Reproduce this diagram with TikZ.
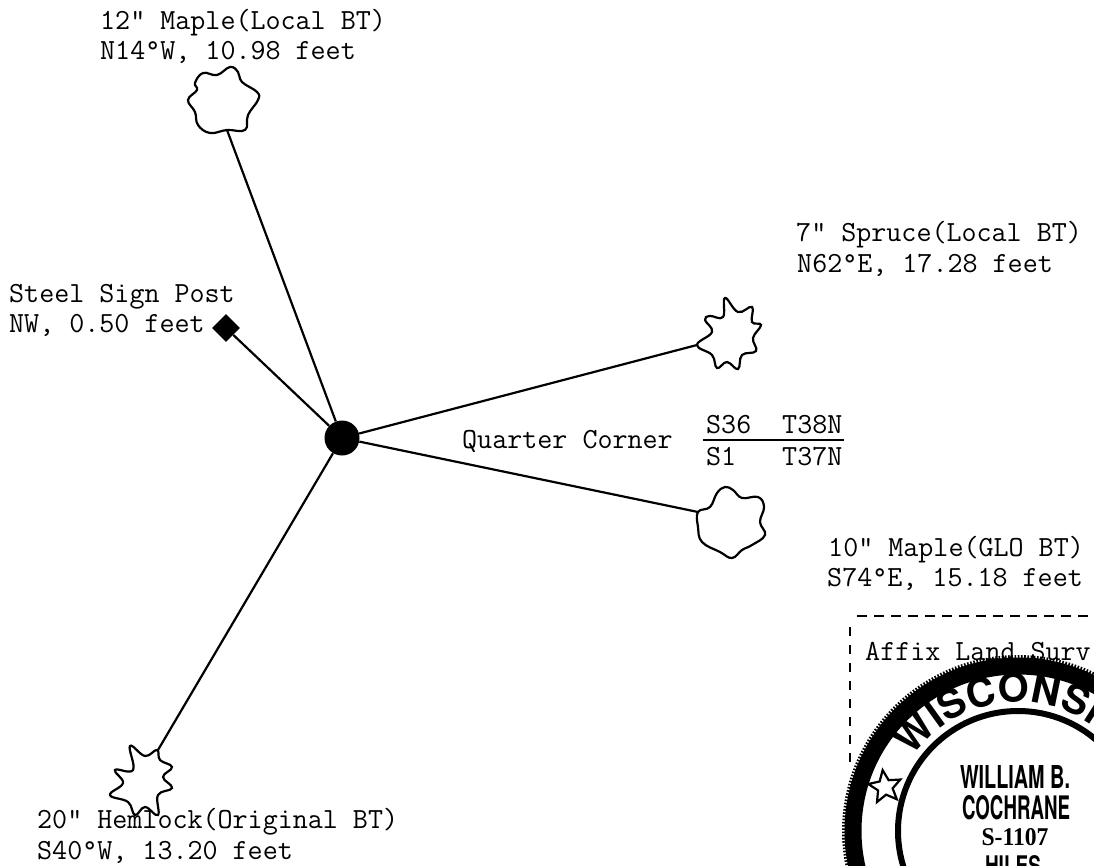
\documentclass[tikz,border=0pt]{standalone}
\usepackage{fontspec}
\usepackage{graphicx}
\usetikzlibrary{shapes.geometric,decorations.text}
\setmonofont{Latin Modern Mono}
\newfontfamily\stampsans[Ligatures=TeX]{TeX Gyre Heros}
\newfontfamily\stampserif{Liberation Serif}
\tikzset{
  x=1pt,y=-1pt,
  lbl/.style={anchor=base west,inner sep=0pt,font=\fontsize{29.2}{30}\selectfont\ttfamily},
  tree/.style={draw=black,line width=2.2pt,fill=white,smooth cycle,tension=0.7},
  tie/.style={draw=black,line width=2.2pt},
  stampname/.style={inner sep=0pt,anchor=center},
}
\begin{document}
\begin{tikzpicture}
\useasboundingbox (0,0) rectangle (1094,866);
% connectors
\node[circle,fill=black,inner sep=0pt,minimum size=35pt] (corner) at (342,438) {};
\node[diamond,fill=black,inner sep=0pt,minimum size=28pt] (post) at (226,328) {};
\coordinate (mapleA) at (227,130);
\coordinate (spruce) at (697,345);
\coordinate (mapleB) at (698,512);
\coordinate (hemlock) at (158,750);
\draw[tie] (corner) -- (mapleA);
\draw[tie] (corner) -- (post);
\draw[tie] (corner) -- (spruce);
\draw[tie] (corner) -- (mapleB);
\draw[tie] (corner) -- (hemlock);
% trees
\draw[tree] plot coordinates {(195,83)(203,73)(217,75)(230,67)(238,72)(242,82)(257,92)(258,100)(248,115)(245,130)(227,130)(210,133)(198,125)(195,112)(188,100)(197,90)};
\draw[tree] plot coordinates {(697,345)(712,332)(705,320)(710,316)(723,317)(725,298)(738,312)(752,307)(752,322)(761,325)(753,338)(756,351)(742,355)(738,369)(727,362)(717,368)(712,355)};
\draw[tree] plot coordinates {(698,512)(710,507)(717,493)(725,487)(733,490)(742,498)(758,497)(764,507)(760,522)(765,535)(752,545)(742,550)(732,558)(720,552)(702,542)(698,527)};
\draw[tree] plot coordinates {(157,750)(145,756)(130,746)(133,770)(115,770)(123,783)(110,795)(128,802)(135,815)(145,807)(158,815)(158,795)(172,788)(163,777)(172,767)(160,760)};
% labels
\node[lbl] (t1) at (100,30) {12" Maple(Local BT)};
\node[lbl] (t2) at (100,60) {N14°W, 10.98 feet};
\node[lbl] (t3) at (796,242) {7" Spruce(Local BT)};
\node[lbl] (t4) at (797,273) {N62°E, 17.28 feet};
\node[lbl] (t5) at (9,302) {Steel Sign Post};
\node[lbl] (t6) at (9,332) {NW, 0.50 feet};
\node[lbl] (t7) at (462,448) {Quarter Corner};
\node[lbl] (t8) at (706,433) {S36};
\node[lbl] (t9) at (782,433) {T38N};
\node[lbl] (t10) at (706,465) {S1};
\node[lbl] (t11) at (782,465) {T37N};
\coordinate (ruleL) at (703,440);
\coordinate (ruleR) at (844,440);
\draw[black,line width=1.8pt] (ruleL) -- (ruleR);
\node[lbl] (t12) at (828,556) {10" Maple(GLO BT)};
\node[lbl] (t13) at (827,586) {S74°E, 15.18 feet};
\node[lbl] (t14) at (37,828) {20" Hemlock(Original BT)};
\node[lbl] (t15) at (37,859) {S40°W, 13.20 feet};
% stamp
\begin{scope}
\clip (0,0) rectangle (1094,866);
\coordinate (boxTL) at (857,616);
\coordinate (boxTR) at (1094,616);
\coordinate (boxL1) at (850,627);
\coordinate (boxL2) at (850,765);
\draw[black,line width=1.8pt,dash pattern=on 10pt off 7pt] (boxTL) -- (boxTR);
\draw[black,line width=1.6pt,dash pattern=on 9pt off 9pt] (boxL1) -- (boxL2);
\node[lbl] (t16) at (865,660) {Affix Land Surv};
\begin{scope}[shift={(1018,831)},y=1pt]
\draw[black,line width=17pt] (0,0) circle[radius=165];
\draw[black,line width=4pt,dash pattern=on 1.6pt off 1.6pt] (0,0) circle[radius=174];
\draw[black,line width=6pt] (0,0) circle[radius=120];
\path[decorate,decoration={text along path,text align=left,
  text={|\fontsize{40}{40}\selectfont\stampsans\bfseries|WISCONSIN}}]
  (145:129) arc[start angle=145,end angle=20,radius=129];
\end{scope}
\node[star,star points=5,star point ratio=2.2,draw=black,line width=2.2pt,fill=white,inner sep=0pt,minimum size=34pt,rotate=8] (star) at (885,787) {};
\node[stampname] (n1) at (1015,777) {\resizebox{110pt}{23pt}{\stampsans\bfseries WILLIAM B.}};
\node[stampname] (n2) at (1016,808) {\resizebox{108pt}{24pt}{\stampsans\bfseries COCHRANE}};
\node[stampname] (n3) at (1015,837) {\resizebox{67pt}{17pt}{\stampserif\bfseries S-1107}};
\node[stampname] (n4) at (1013,866) {\resizebox{56pt}{20pt}{\stampsans\bfseries HILES}};
\end{scope}
\end{tikzpicture}
\end{document}
